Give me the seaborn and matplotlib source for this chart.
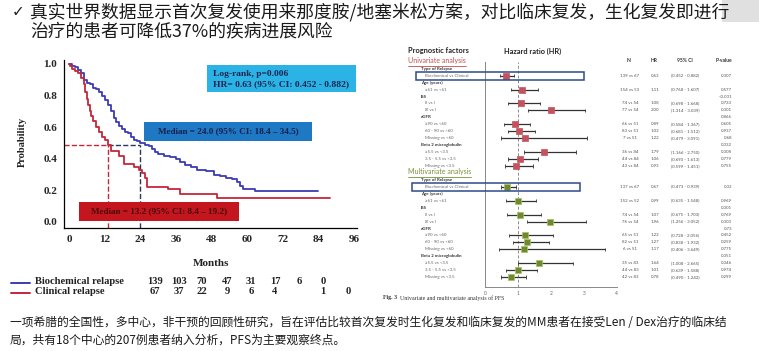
import matplotlib
matplotlib.use("Agg")
import matplotlib.pyplot as plt
import seaborn as sns
import pandas as pd
from matplotlib.patches import Rectangle
from matplotlib.lines import Line2D

# ------------------------------------------------------------------ data
title_lines = ["真实世界数据显示首次复发使用来那度胺/地塞米松方案，对比临床复发，生化复发即进行",
               "治疗的患者可降低37%的疾病进展风险"]
footer_lines = ["一项希腊的全国性，多中心，非干预的回顾性研究，旨在评估比较首次复发时生化复发和临床复发的MM患者在接受Len / Dex治疗的临床结",
                "局，共有18个中心的207例患者纳入分析，PFS为主要观察终点。"]

# Kaplan-Meier step points (months, survival probability)
bio_t = [0, 1, 2, 3, 4, 5, 6, 7, 8, 9, 10, 11, 12, 13, 14, 15, 16, 17, 18, 19, 20, 21, 22, 23, 24,
         25.5, 27, 28, 29, 30, 32, 34, 36, 37.5, 39, 41, 43, 46, 49, 51, 53, 55, 56.5, 57.5, 58.5, 62.5, 84]
bio_s = [1.0, 0.99, 0.98, 0.96, 0.94, 0.90, 0.88, 0.87, 0.85, 0.84, 0.82, 0.80, 0.77, 0.74, 0.70, 0.66,
         0.63, 0.61, 0.59, 0.57, 0.56, 0.54, 0.52, 0.51, 0.50, 0.49, 0.48, 0.46, 0.44, 0.43, 0.42, 0.41,
         0.40, 0.38, 0.36, 0.35, 0.33, 0.32, 0.30, 0.29, 0.28, 0.27, 0.25, 0.23, 0.21, 0.195, 0.195]
cli_t = [0, 0.5, 1, 2, 3, 4, 5, 5.5, 6, 6.5, 7, 7.5, 8, 9, 10, 11, 12, 13.2, 14, 17, 18.5, 22, 23.5,
         24.5, 25.5, 26.3, 33.5, 37.5, 50, 88]
cli_s = [1.0, 0.985, 0.97, 0.955, 0.94, 0.91, 0.87, 0.82, 0.78, 0.74, 0.70, 0.67, 0.64, 0.60, 0.57,
         0.54, 0.52, 0.49, 0.45, 0.42, 0.37, 0.35, 0.33, 0.31, 0.28, 0.22, 0.21, 0.18, 0.15, 0.15]
month_ticks = [0, 12, 24, 36, 48, 60, 72, 84, 96]
prob_ticks = [0.0, 0.2, 0.4, 0.6, 0.8, 1.0]
median_bio = 24.0
median_cli = 13.2
median_level = 0.49
risk_groups = ["Biochemical relapse", "Clinical relapse"]
risk_bio = ["139", "103", "70", "47", "31", "17", "6", "0", ""]
risk_cli = ["67", "37", "22", "9", "6", "4", "", "1", "0"]
logrank_text = ["Log-rank, p=0.006", "HR= 0.63 (95% CI: 0.452 - 0.882)"]
median_bio_text = "Median = 24.0 (95% CI: 18.4 – 34.5)"
median_cli_text = "Median = 13.2 (95% CI: 8.4 – 19.2)"

# Forest plot
row_labels = ["Type of Relapse", "Biochemical vs Clinical", "Age (years)", "≥61 vs <61", "ISS",
              "II vs I", "III vs I", "eGFR", "≥90 vs <60", "60 - 90 vs <60", "Missing vs <60",
              "Beta 2 microglobulin", "≥5.5 vs <3.5", "3.5 - 5.5 vs <3.5", "Missing vs <3.5"]
row_is_header = [1, 0, 1, 0, 1, 0, 0, 1, 0, 0, 0, 1, 0, 0, 0]
uni_hr = [0.63, 1.11, 1.08, 2.00, 0.89, 1.02, 1.22, 1.79, 1.06, 0.93]
uni_lo = [0.452, 0.768, 0.698, 1.314, 0.584, 0.681, 0.479, 1.166, 0.690, 0.599]
uni_hi = [0.882, 1.607, 1.668, 3.039, 1.367, 1.512, 3.091, 2.750, 1.613, 1.451]
uni_n = ["139 vs 67", "154 vs 53", "74 vs 54", "77 vs 54", "66 vs 51", "83 vs 51", "7 vs 51",
         "36 vs 84", "44 vs 84", "43 vs 84"]
uni_p = ["", "0.007", "", "0.577", "<0.001", "0.733", "0.001", "0.866", "0.605", "0.937", "0.68",
         "0.032", "0.008", "0.779", "0.755"]
multi_hr = [0.67, 0.99, 1.07, 1.96, 1.22, 1.27, 1.17, 1.64, 1.01, 0.78]
multi_lo = [0.473, 0.635, 0.675, 1.256, 0.728, 0.838, 0.406, 1.008, 0.639, 0.490]
multi_hi = [0.939, 1.548, 1.703, 3.052, 2.056, 1.932, 3.649, 2.665, 1.588, 1.242]
multi_n = ["137 vs 67", "152 vs 52", "74 vs 54", "76 vs 54", "65 vs 51", "82 vs 51", "6 vs 51",
           "35 vs 83", "44 vs 83", "42 vs 83"]
multi_p = ["", "0.02", "", "0.969", "0.001", "0.769", "0.003", "0.73", "0.452", "0.259", "0.775",
           "0.051", "0.046", "0.974", "0.299"]
hr_ticks = [0, 1, 2, 3, 4]
col_headers = ["N", "HR", "95% CI", "P-value"]

# ------------------------------------------------------------------ style
sns.set_theme(style="white")
plt.rcParams["font.family"] = ["Noto Sans CJK SC", "DejaVu Sans"]

W, H = 759, 351
fig = plt.figure(figsize=(W / 100, H / 100), dpi=100)
fig.patch.set_facecolor("white")


def fx(px):
    return px / W


def fy(py):
    return 1 - py / H


SERIF = ["Liberation Serif", "DejaVu Serif"]
SANS = ["Lato", "DejaVu Sans"]

BLUE = "#3C3CB4"
RED = "#C4263A"

# top-right decoration
fig.add_artist(Rectangle((fx(722), fy(22)), fx(37), 22 / H, transform=fig.transFigure,
                         facecolor="#D9D9D9", edgecolor="none", alpha=0.8))

# title
fig.text(fx(12), fy(12), "✓", fontsize=11, color="#222222", va="center", ha="left",
         family=["DejaVu Sans"])
fig.text(fx(30), fy(12), title_lines[0], fontsize=12.8, color="#1a1a1a", va="center", ha="left")
fig.text(fx(30), fy(31), title_lines[1], fontsize=12.8, color="#1a1a1a", va="center", ha="left")

# footer
fig.text(fx(10), fy(322), footer_lines[0], fontsize=8.5, color="#1a1a1a", va="center", ha="left")
fig.text(fx(10), fy(340), footer_lines[1], fontsize=8.5, color="#1a1a1a", va="center", ha="left")

# ------------------------------------------------------------------ KM plot
ax1 = fig.add_axes([fx(64), fy(228), fx(357) - fx(64), (228 - 60) / H])
km = pd.concat([
    pd.DataFrame({"month": bio_t, "prob": bio_s, "group": risk_groups[0]}),
    pd.DataFrame({"month": cli_t, "prob": cli_s, "group": risk_groups[1]}),
])
sns.lineplot(data=km, x="month", y="prob", hue="group", palette=[BLUE, RED],
             estimator=None, sort=False, drawstyle="steps-post", linewidth=1.3,
             legend=False, ax=ax1, zorder=3)
ax1.set_xlim(-1.68, 97.0)
ax1.set_ylim(-0.038, 1.025)
ax1.set_xticks(month_ticks)
ax1.set_yticks(prob_ticks)
ax1.set_yticklabels([f"{v:.1f}" for v in prob_ticks])
for lab in ax1.get_xticklabels() + ax1.get_yticklabels():
    lab.set_family(SERIF)
    lab.set_fontweight("bold")
    lab.set_fontsize(8)
ax1.tick_params(axis="both", direction="out", length=3, width=0.9, color="black", pad=2)
for s in ["top", "right"]:
    ax1.spines[s].set_visible(False)
for s in ["left", "bottom"]:
    ax1.spines[s].set_color("black")
    ax1.spines[s].set_linewidth(0.9)
ax1.set_xlabel("")
ax1.set_ylabel("")
ax1.patch.set_alpha(0)

# median guide lines
ax1.plot([-1.68, median_cli], [median_level, median_level], ls="--", color=RED, lw=1.0, zorder=2)
ax1.plot([median_cli, median_cli], [-0.038, median_level], ls="--", color=RED, lw=1.0, zorder=2)
ax1.plot([median_cli, median_bio], [median_level, median_level], ls="--", color="#2A3560", lw=1.0, zorder=2)
ax1.plot([median_bio, median_bio], [-0.038, median_level], ls="--", color="#2A3560", lw=1.0, zorder=2)

fig.text(fx(22), fy(142), "Probability", rotation=90, family=SERIF, fontweight="bold",
         fontsize=7.6, va="center", ha="center", color="#222222")
fig.text(fx(211), fy(263), "Months", family=SERIF, fontweight="bold", fontsize=8,
         va="center", ha="center", color="#222222")


def box(x0, y0, x1, y1, fc):
    fig.add_artist(Rectangle((fx(x0), fy(y1)), fx(x1) - fx(x0), (y1 - y0) / H,
                             transform=fig.transFigure, facecolor=fc, edgecolor="none", zorder=5))


box(207, 65, 356, 92, "#2BB3E6")
fig.text(fx(213), fy(74), logrank_text[0], family=SERIF, fontweight="bold", fontsize=6.8,
         color="#1B2550", va="center", ha="left", zorder=6)
fig.text(fx(213), fy(84.5), logrank_text[1], family=SERIF, fontweight="bold", fontsize=6.8,
         color="#1B2550", va="center", ha="left", zorder=6)
box(144, 122, 312, 141, "#1F78C4")
fig.text(fx(228), fy(131.5), median_bio_text, family=SERIF, fontweight="bold", fontsize=6.6,
         color="#14204A", va="center", ha="center", zorder=6)
box(79, 202, 239, 221, "#C3161E")
fig.text(fx(159), fy(211.5), median_cli_text, family=SERIF, fontweight="bold", fontsize=6.6,
         color="#4A0A0A", va="center", ha="center", zorder=6)

# number at risk
risk_cols = [155, 179, 202, 227, 251, 275, 299, 323, 348]
for yy, name, col, vals in [(282, risk_groups[0], BLUE, risk_bio), (292, risk_groups[1], RED, risk_cli)]:
    fig.add_artist(Line2D([fx(11), fx(30)], [fy(yy + 0.5), fy(yy + 0.5)], color=col, lw=1.4,
                          transform=fig.transFigure))
    fig.text(fx(35), fy(yy), name, family=SERIF, fontweight="bold", fontsize=7.6,
             color="#222222", va="center", ha="left")
    for cx, v in zip(risk_cols, vals):
        fig.text(fx(cx), fy(yy), v, family=SERIF, fontweight="bold", fontsize=7.6,
                 color="#222222", va="center", ha="center")

# ------------------------------------------------------------------ forest plot
X0, XS = 485.3, 32.85          # px of HR=0, px per HR unit
Y0, YS = 68.7, 6.95            # px of row 0, px per row
top_px, bot_px = 62, 286.7
ax2 = fig.add_axes([fx(X0), fy(bot_px), (XS * 4) / W, (bot_px - top_px) / H])
ax2.set_xlim(0, 4)
ax2.set_ylim((bot_px - Y0) / YS, (top_px - Y0) / YS)
ax2.patch.set_alpha(0)


def hx(px):
    return (px - X0) / XS


def row_of(py):
    return (py - Y0) / YS


marker_rows_uni = [i for i, h in enumerate(row_is_header) if not h]
marker_rows_multi = [i + 16 for i in marker_rows_uni]

ax2.axvline(1, ls=(0, (3, 2)), color="#8a8a8a", lw=0.7, zorder=1)

for rows, hr, lo, hi, fc, ec in [
        (marker_rows_uni, uni_hr, uni_lo, uni_hi, "#C4525E", "#C4525E"),
        (marker_rows_multi, multi_hr, multi_lo, multi_hi, "#6F8A2E", "#A8C060")]:
    ax2.hlines(rows, lo, hi, color="#333333", lw=0.9, zorder=2)
    ax2.vlines(lo, [r - 0.25 for r in rows], [r + 0.25 for r in rows], color="#333333", lw=0.6, zorder=2)
    ax2.vlines(hi, [r - 0.25 for r in rows], [r + 0.25 for r in rows], color="#333333", lw=0.6, zorder=2)
    sns.scatterplot(x=hr, y=rows, marker="s", s=16, color=fc, edgecolor=ec, linewidth=0.5,
                    ax=ax2, zorder=3, legend=False)

ax2.set_xticks(hr_ticks)
ax2.set_xticklabels([str(v) for v in hr_ticks])
ax2.set_yticks([])
ax2.tick_params(axis="x", direction="out", length=1.5, width=0.5, color="#888888",
                labelsize=3.5, labelcolor="#666666", pad=1.5)
for lab in ax2.get_xticklabels():
    lab.set_family(SANS)
for s in ["top", "right"]:
    ax2.spines[s].set_visible(False)
for s in ["left", "bottom"]:
    ax2.spines[s].set_color("#888888")
    ax2.spines[s].set_linewidth(0.7)
ax2.set_xlabel("")
ax2.set_ylabel("")

TXT = dict(clip_on=False, va="center", family=SANS)
# headings
ax2.text(hx(408), row_of(51), "Prognostic factors", fontsize=5.3, color="#222222",
         fontweight="bold", ha="left", **TXT)
ax2.text(hx(504), row_of(51), "Hazard ratio (HR)", fontsize=5.3, color="#222222",
         fontweight="bold", ha="left", **TXT)
col_x = [629, 654, 685, 732]
col_ha = ["center", "center", "center", "right"]
for cx, ha, h in zip(col_x, col_ha, col_headers):
    ax2.text(hx(cx), row_of(60), h, fontsize=3.6, color="#333333", fontweight="bold",
             ha=ha, **TXT)

for base, title, tcol, hr, lo, hi, ns, ps in [
        (0, "Univariate analysis", "#C0504D", uni_hr, uni_lo, uni_hi, uni_n, uni_p),
        (16, "Multivariate analysis", "#76923C", multi_hr, multi_lo, multi_hi, multi_n, multi_p)]:
    hy = base - 1.2
    ax2.text(hx(408), hy, title, fontsize=5.0, color=tcol, ha="left", **TXT)
    ax2.plot([hx(408), hx(408 + 58 if base == 0 else 408 + 63)], [hy + 0.85, hy + 0.85],
             color=tcol, lw=0.6, clip_on=False)
    k = 0
    for i, (lab, is_h) in enumerate(zip(row_labels, row_is_header)):
        r = base + i
        ax2.text(hx(421 if is_h else 425), r, lab, fontsize=3.2,
                 color="#333333" if is_h else "#666666",
                 fontweight="bold" if is_h else "normal", ha="left", **TXT)
        if ps[i]:
            ax2.text(hx(732), r, ps[i], fontsize=3.2, color="#555555", ha="right", **TXT)
        if not is_h:
            ax2.text(hx(630), r, ns[k], fontsize=3.2, color="#555555", ha="center", **TXT)
            ax2.text(hx(655), r, f"{hr[k]:.2f}", fontsize=3.2, color="#555555", ha="center", **TXT)
            ax2.text(hx(685), r, f"({lo[k]:.3f} - {hi[k]:.3f})", fontsize=3.2, color="#555555",
                     ha="center", **TXT)
            k += 1
    # highlight box around the relapse-type row
    bx0 = hx(416 if base == 0 else 412)
    bx1 = hx(584 if base == 0 else 580)
    ax2.add_patch(Rectangle((bx0, base + 0.45), bx1 - bx0, 1.2, fill=False,
                            edgecolor="#2D4A8A", lw=1.1, clip_on=False, zorder=4))

ax2.text(hx(383), row_of(298), "Fig. 3", fontsize=4.2, family=SERIF, fontweight="bold",
         color="#333333", ha="left", va="center", clip_on=False)
ax2.text(hx(400), row_of(298), "Univariate and multivariate analysis of PFS", fontsize=4.2,
         family=SERIF, color="#333333", ha="left", va="center", clip_on=False)

fig.savefig("out.png", dpi=100, facecolor="white")
